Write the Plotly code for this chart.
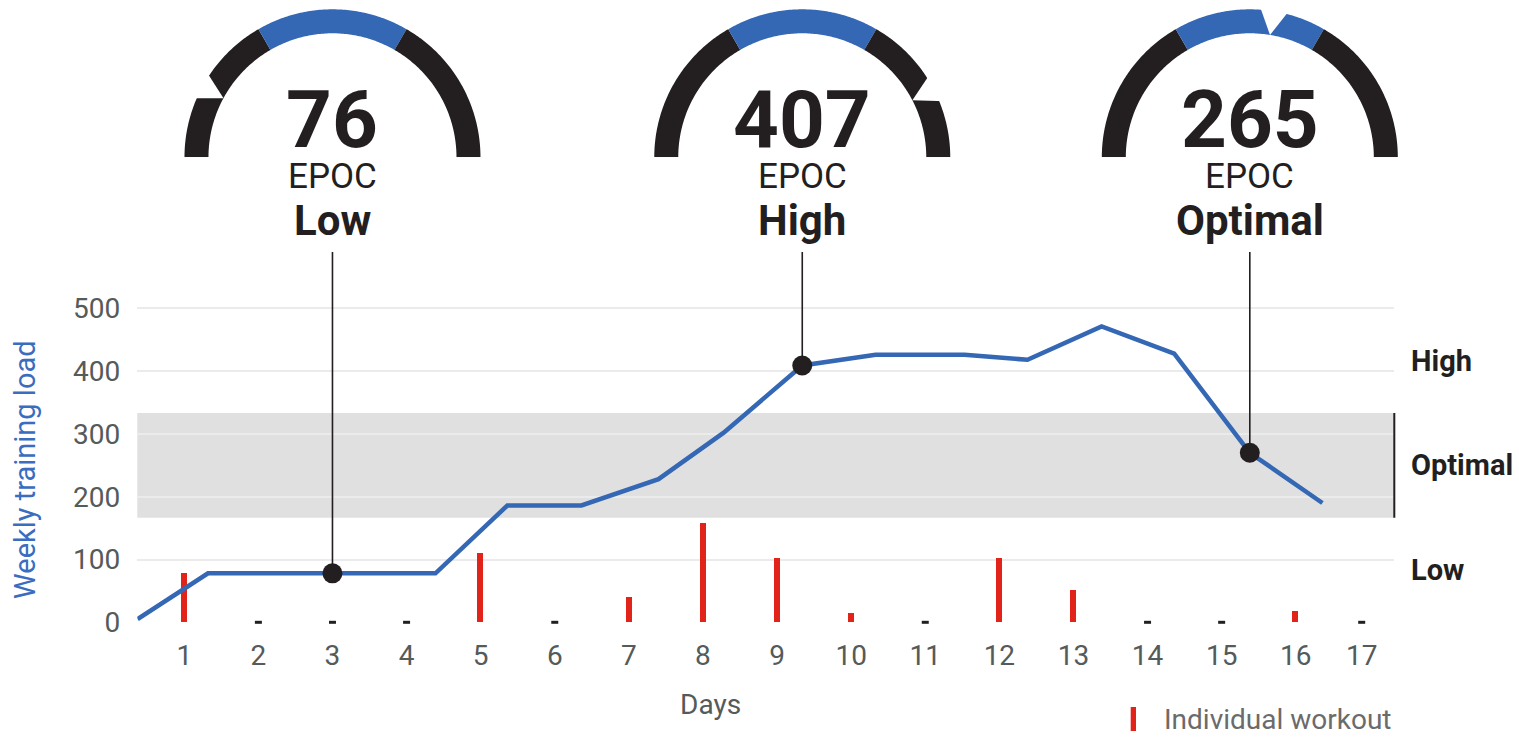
import numpy as np
import plotly.graph_objects as go

# the rendered figure area (the page viewport)
W, H = 1519, 731

# ---------------- data ----------------
days = list(range(1, 18))
day_labels = [str(d) for d in days]
day_x = [1, 2, 3, 4, 5, 6, 7, 8, 9, 10, 11, 12, 13, 14, 15, 16, 16.89]
workouts = [78, 0, 0, 0, 111, 0, 41, 158, 103, 15, 0, 103, 51, 0, 0, 18, 0]

load_x = [0.37, 1.32, 4.39, 5.36, 6.36, 7.40, 8.28, 9.34, 10.33, 11.53, 12.38, 13.38, 14.36, 15.38, 16.36]
load_y = [5, 78, 78, 186, 186, 228, 302, 409, 426, 426, 418, 471, 428, 270, 190]

gauge_x = [3, 9.34, 15.38]
gauge_load = [78, 409, 270]
gauge_epoc = [76, 407, 265]
gauge_level = ["Low", "High", "Optimal"]

zone_names = ["Low", "Optimal", "High"]
zone_bounds = [0, 500 / 3, 1000 / 3, 500]

gauge_max = 480
gauge_zones = [160, 320]

y_ticks = [0, 100, 200, 300, 400, 500]

# ---------------- style ----------------
FONT = "Roboto"
DARK = "#231f20"
BLUE = "#3467b4"
RED = "#e2231a"
GRAY = "#555a5a"

x_range = [0.366, 17.33]
x_dom = [137.3 / W, 1394.3 / W]
y_zero_px, y_per_unit = 622.3, 0.628
y_top_px = 252
y_range = [0, (y_zero_px - y_top_px) / y_per_unit]
y_dom = [(H - y_zero_px) / H, (H - y_top_px) / H]


def px_x(v):
    return W * (x_dom[0] + (v - x_range[0]) / (x_range[1] - x_range[0]) * (x_dom[1] - x_dom[0]))


def py(p):
    """pixel row (from top) -> paper fraction"""
    return (H - p) / H


fig = go.Figure()

# workouts
wx = [x for x, w in zip(day_x, workouts) if w > 0]
wy = [w for w in workouts if w > 0]
fig.add_trace(go.Bar(x=wx, y=wy, width=0.08, marker=dict(color=RED, line=dict(width=0)),
                     hoverinfo="skip", showlegend=False))
zx = [x for x, w in zip(day_x, workouts) if w == 0]
fig.add_trace(go.Scatter(x=zx, y=[0] * len(zx), mode="markers", cliponaxis=False,
                         marker=dict(symbol="line-ew", size=5, line=dict(width=3, color=DARK)),
                         hoverinfo="skip", showlegend=False))

# training load line
fig.add_trace(go.Scatter(x=load_x, y=load_y, mode="lines",
                         line=dict(color=BLUE, width=4.5), hoverinfo="skip", showlegend=False))

# connectors
for gx, gl in zip(gauge_x, gauge_load):
    fig.add_trace(go.Scatter(x=[gx, gx], y=[gl, y_range[1]], mode="lines", cliponaxis=False,
                             line=dict(color=DARK, width=1.6), hoverinfo="skip", showlegend=False))
fig.add_trace(go.Scatter(x=gauge_x, y=gauge_load, mode="markers", cliponaxis=False,
                         marker=dict(color=DARK, size=20), hoverinfo="skip", showlegend=False))

# ---------------- gauges ----------------
R_OUT, R_IN, R_RANGE = 148, 124, 155
CY_PX = 157.3


def ang(v):
    return 180 - v / gauge_max * 180


polar_layouts = {}
for i, (gx, val) in enumerate(zip(gauge_x, gauge_epoc)):
    name = "polar" if i == 0 else f"polar{i + 1}"
    cx = px_x(gx)
    polar_layouts[name] = dict(
        domain=dict(x=[(cx - R_RANGE) / W, (cx + R_RANGE) / W],
                    y=[py(CY_PX), py(CY_PX - R_RANGE)]),
        sector=[0, 180],
        bgcolor="rgba(0,0,0,0)",
        radialaxis=dict(range=[0, R_RANGE], visible=False, showgrid=False, showline=False,
                        showticklabels=False, ticks=""),
        angularaxis=dict(visible=False, showgrid=False, showline=False,
                         showticklabels=False, ticks=""),
    )
    edges = [0] + gauge_zones + [gauge_max]
    cols = [DARK, BLUE, DARK]
    for (a, b), c in zip(zip(edges[:-1], edges[1:]), cols):
        th = np.linspace(ang(a), ang(b), 80)
        r = np.concatenate([np.full(len(th), R_OUT), np.full(len(th), R_IN)])
        t = np.concatenate([th, th[::-1]])
        fig.add_trace(go.Scatterpolar(r=r, theta=t, mode="lines", fill="toself",
                                      fillcolor=c, line=dict(width=0, color=c),
                                      subplot=name, hoverinfo="skip", showlegend=False))
    # notch pointing at the value
    tv = np.radians(ang(val))
    apex = np.array([R_IN * np.cos(tv), R_IN * np.sin(tv)])
    pts = [apex]
    for s in (+1, -1):
        to = tv + s * np.radians(5.0)
        p = np.array([R_OUT * np.cos(to), R_OUT * np.sin(to)])
        pts.append(apex + 1.25 * (p - apex))
    pts = np.array(pts + [apex])
    rr = np.hypot(pts[:, 0], pts[:, 1])
    tt = np.degrees(np.arctan2(pts[:, 1], pts[:, 0]))
    fig.add_trace(go.Scatterpolar(r=rr, theta=tt, mode="lines", fill="toself",
                                  fillcolor="white", line=dict(width=0, color="white"),
                                  subplot=name, hoverinfo="skip", showlegend=False))

# ---------------- annotations ----------------
ann = []
for gx, val, lvl in zip(gauge_x, gauge_epoc, gauge_level):
    ann.append(dict(x=gx, xref="x", y=py(120), yref="paper", text=f"<b>{val}</b>",
                    xanchor="center", yanchor="middle",
                    showarrow=False, font=dict(family=FONT, size=80, color=DARK)))
    ann.append(dict(x=gx, xref="x", y=py(176), yref="paper", text="EPOC",
                    xanchor="center", yanchor="middle",
                    showarrow=False, font=dict(family=FONT, size=35, color=DARK)))
    ann.append(dict(x=gx, xref="x", y=py(220), yref="paper", text=f"<b>{lvl}</b>",
                    xanchor="center", yanchor="middle",
                    showarrow=False, font=dict(family=FONT, size=42, color=DARK)))

for nm, lo, hi in zip(zone_names, zone_bounds[:-1], zone_bounds[1:]):
    ann.append(dict(x=1, xref="x domain", y=(lo + hi) / 2, yref="y", text=f"<b>{nm}</b>",
                    xanchor="left", yanchor="middle", xshift=15, showarrow=False,
                    font=dict(family=FONT, size=29, color=DARK)))

ann.append(dict(x=710 / W, xref="paper", y=py(704), yref="paper", text="Days",
                xanchor="center", yanchor="middle",
                showarrow=False, font=dict(family=FONT, size=28, color=GRAY)))
ann.append(dict(x=25 / W, xref="paper", y=py(470), yref="paper", text="Weekly training load",
                xanchor="center", yanchor="middle",
                textangle=-90, showarrow=False, font=dict(family=FONT, size=29, color="#3a6cbf")))
ann.append(dict(x=1162 / W, xref="paper", y=py(719), yref="paper", text="Individual workout",
                xanchor="left", yanchor="middle", showarrow=False,
                font=dict(family=FONT, size=28, color="#6b6b6b")))

shapes = [
    dict(type="rect", xref="x domain", x0=0, x1=1, yref="y", y0=zone_bounds[1], y1=zone_bounds[2],
         fillcolor="#e0e0e0", line=dict(width=0), layer="below"),
    dict(type="line", xref="x domain", x0=1, x1=1, yref="y", y0=zone_bounds[1], y1=zone_bounds[2],
         line=dict(color=DARK, width=2)),
    dict(type="rect", xref="paper", x0=1130.7 / W, x1=1136 / W, yref="paper",
         y0=py(731), y1=py(707), fillcolor=RED, line=dict(width=0)),
]

fig.update_layout(
    autosize=True,
    margin=dict(l=0, r=0, t=0, b=0),
    paper_bgcolor="white", plot_bgcolor="white",
    font=dict(family=FONT, color=GRAY),
    showlegend=False,
    hovermode=False,
    xaxis=dict(domain=x_dom, range=x_range, showgrid=False, zeroline=False, showline=False,
               tickvals=day_x, ticktext=day_labels, ticks="", ticklabelstandoff=14,
               tickfont=dict(family=FONT, size=28, color=GRAY)),
    yaxis=dict(domain=y_dom, range=y_range, showgrid=True, gridcolor="#ebebeb", gridwidth=2,
               zeroline=False, showline=False, tickvals=y_ticks, ticks="", ticklabelstandoff=16,
               tickfont=dict(family=FONT, size=28, color=GRAY)),
    annotations=ann,
    shapes=shapes,
    bargap=0,
    **polar_layouts,
)

post = (
    "var gd=document.getElementById('{plot_id}');"
    "document.documentElement.style.margin='0';document.documentElement.style.height='100%';"
    "document.body.style.margin='0';document.body.style.height='100%';"
    "document.body.style.overflow='hidden';"
    "if(gd.parentElement){gd.parentElement.style.height='100%';}"
    "gd.style.width='100%';gd.style.height='100%';"
    "Plotly.Plots.resize(gd);"
)
fig.write_html("out.html", config={"displayModeBar": False}, post_script=post)
